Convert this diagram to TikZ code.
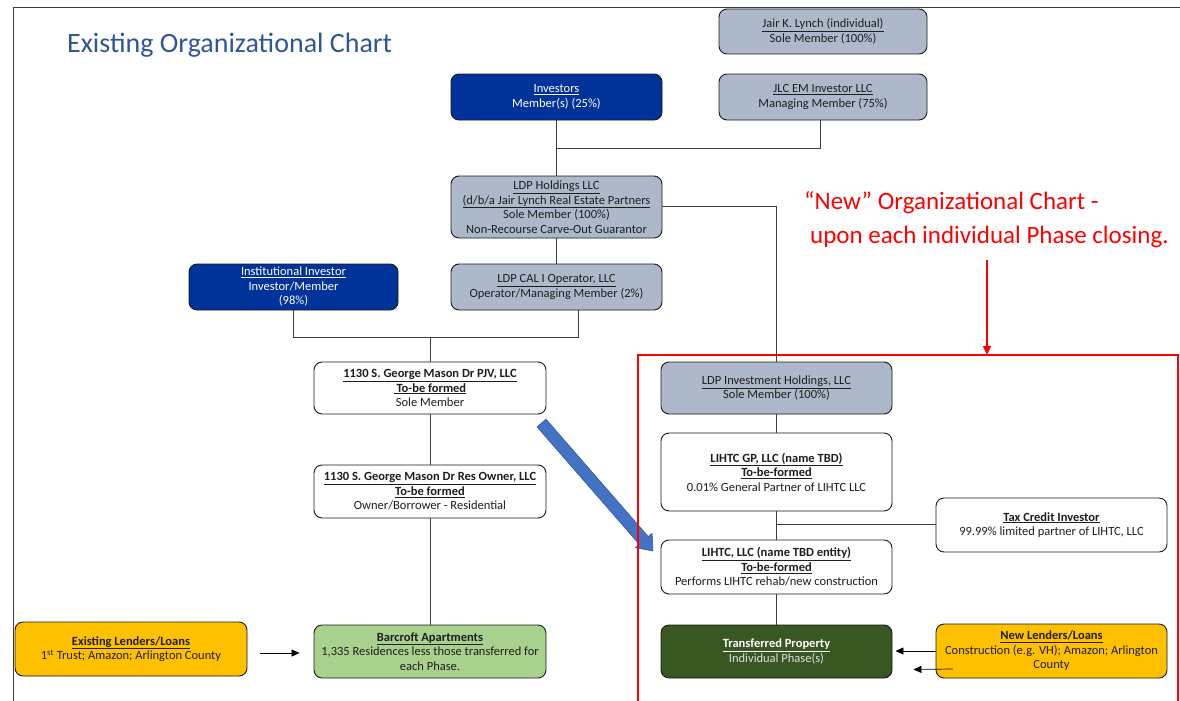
\documentclass[tikz,border=0pt]{standalone}
\usepackage{fontspec}
\setmainfont{Carlito}
\usetikzlibrary{arrows.meta}
\definecolor{boxgray}{RGB}{173,185,202}
\definecolor{darkblue}{RGB}{0,51,153}
\definecolor{orangey}{RGB}{255,192,0}
\definecolor{lightgreen}{RGB}{169,209,142}
\definecolor{darkgreen}{RGB}{56,87,35}
\definecolor{titleblue}{RGB}{47,85,151}
\definecolor{arrowblue}{RGB}{68,114,196}
\definecolor{arrowedge}{RGB}{47,82,143}
\definecolor{linegray}{RGB}{60,60,60}
\definecolor{txt}{RGB}{30,30,30}
\tikzset{
  box/.style={draw=black!90, line width=0.9pt, rounded corners=8pt, align=center, inner sep=2pt,
    font=\fontsize{12.5}{14.5}\selectfont, text=txt},
  graybox/.style={box, fill=boxgray},
  bluebox/.style={box, fill=darkblue, text=white},
  whitebox/.style={box, fill=white},
  orangebox/.style={box, fill=orangey},
  conn/.style={draw=linegray, line width=0.9pt},
  arr/.style={draw=black, line width=0.7pt, -{Triangle[length=8pt,width=7pt]}},
}
\begin{document}
\begin{tikzpicture}[x=1pt,y=-1pt]
\useasboundingbox (0,0) rectangle (1180,701);
% frame
\draw[linegray, line width=0.9pt] (13,701) -- (13,7) -- (1180,7);
% title
\node[anchor=west, text=titleblue, font=\fontsize{28}{32}\selectfont, inner sep=0] (title) at (67,45) {Existing Organizational Chart};
% boxes
\node[graybox, minimum width=208, minimum height=45] (jair) at (823,31.5) {\underline{Jair K. Lynch (individual)}\\Sole Member (100\%)};
\node[graybox, minimum width=208, minimum height=46] (jlc) at (823,97) {\underline{JLC EM Investor LLC}\\Managing Member (75\%)};
\node[bluebox, minimum width=211, minimum height=46] (inv) at (556.5,97) {\underline{Investors}\\Member(s) (25\%)};
\node[graybox, minimum width=211, minimum height=62] (ldph) at (556.5,207) {\underline{LDP Holdings LLC}\\\underline{(d/b/a Jair Lynch Real Estate Partners}\\Sole Member (100\%)\\Non-Recourse Carve-Out Guarantor};
\node[graybox, minimum width=211, minimum height=46] (cal) at (556.5,287) {\underline{LDP CAL I Operator, LLC}\\Operator/Managing Member (2\%)};
\node[bluebox, minimum width=209, minimum height=46] (inst) at (293.5,287) {\underline{Institutional Investor}\\Investor/Member\\(98\%)};
\node[whitebox, minimum width=232, minimum height=52] (pjv) at (430,388) {\textbf{\underline{1130 S. George Mason Dr PJV, LLC}}\\\textbf{\underline{\ To-be formed}}\\Sole Member};
\node[whitebox, minimum width=232, minimum height=53] (res) at (430,491.5) {\textbf{\underline{1130 S. George Mason Dr Res Owner, LLC}}\\\textbf{\underline{To-be formed}}\\Owner/Borrower - Residential};
\node[box, fill=lightgreen, minimum width=232, minimum height=53] (barc) at (430,651.5) {\textbf{\underline{Barcroft Apartments}}\\1,335 Residences less those transferred for\\each Phase.};
\node[orangebox, minimum width=232, minimum height=54] (exist) at (131,649) {\textbf{\underline{Existing Lenders/Loans}}\\1\textsuperscript{st} Trust; Amazon; Arlington County};
% big blue arrow
\draw[fill=arrowblue, draw=arrowedge, line width=0.5pt] (537,426.9) -- (546,419.1) -- (648.3,536.6) -- (652.1,533.3) -- (653,551) -- (635.5,547.7) -- (639.3,544.4) -- cycle;
% new chart boxes
\node[graybox, minimum width=231, minimum height=52] (ldpi) at (776.5,388) {\underline{LDP Investment Holdings, LLC}\\Sole Member (100\%)};
\node[whitebox, minimum width=231, minimum height=78] (gp) at (776.5,472) {\textbf{\underline{LIHTC GP, LLC (name TBD)}}\\\textbf{\underline{To-be-formed}}\\0.01\% General Partner of LIHTC LLC};
\node[whitebox, minimum width=231, minimum height=54] (lihtc) at (776.5,567) {\textbf{\underline{LIHTC, LLC (name TBD entity)}}\\\textbf{\underline{To-be-formed}}\\Performs LIHTC rehab/new construction};
\node[whitebox, minimum width=231, minimum height=54] (tax) at (1051.5,525) {\textbf{\underline{Tax Credit Investor}}\\99.99\% limited partner of LIHTC, LLC};
\node[box, fill=darkgreen, text=white, minimum width=231, minimum height=53] (trans) at (776.5,651.5) {\textbf{\underline{Transferred Property}}\\\textcolor{white!88!black}{Individual Phase(s)}};
\node[orangebox, minimum width=231, minimum height=54] (newl) at (1051.5,651) {\textbf{\underline{New Lenders/Loans}}\\Construction (e.g. VH); Amazon; Arlington\\County};
% red annotation
\node[anchor=west, text=red, font=\fontsize{25}{29}\selectfont, inner sep=0] (new1) at (804,203) {“New” Organizational Chart -};
\node[anchor=west, text=red, font=\fontsize{25}{29}\selectfont, inner sep=0] (new2) at (810,237) {upon each individual Phase closing.};
\coordinate (rtop) at (987,260);
\coordinate (rbot) at (987,355);
\draw[red, line width=1.5pt, -{Triangle[length=9pt,width=8pt]}] (rtop) -- (rbot);
\draw[red, line width=1.5pt] (638,355) rectangle (1178,712);
% connectors
\coordinate (j1) at (556.5,148);
\coordinate (j2) at (430,337);
\coordinate (j3) at (776.5,524);
\draw[conn] (inv.south) -- (ldph.north);
\draw[conn] ([xshift=-3pt]jlc.south) |- (j1);
\draw[conn] (ldph.east |- 0,206) -| (ldpi.north);
\draw[conn] (ldph.south) -- (cal.north);
\draw[conn] (inst.south) |- (j2);
\draw[conn] ([xshift=21.5pt]cal.south) |- (j2);
\draw[conn] (j2) -- (pjv.north);
\draw[conn] (pjv.south) -- (res.north);
\draw[conn] (res.south) -- (barc.north);
\draw[conn] (ldpi.south) -- (gp.north);
\draw[conn] (gp.south) -- (lihtc.north);
\draw[conn] (j3) -- (tax.west |- j3);
\draw[conn] (lihtc.south) -- (trans.north);
\draw[arr] ([xshift=13pt,yshift=-4pt]exist.east) -- ([xshift=-14pt,yshift=-4pt]exist.east -| barc.west);
\draw[arr] (newl.west) -- ([xshift=3pt]newl.west -| trans.east);
\draw[arr] ([xshift=17pt,yshift=-18pt]newl.west) -- ([xshift=21pt,yshift=-18pt]trans.east);
\end{tikzpicture}
\end{document}
